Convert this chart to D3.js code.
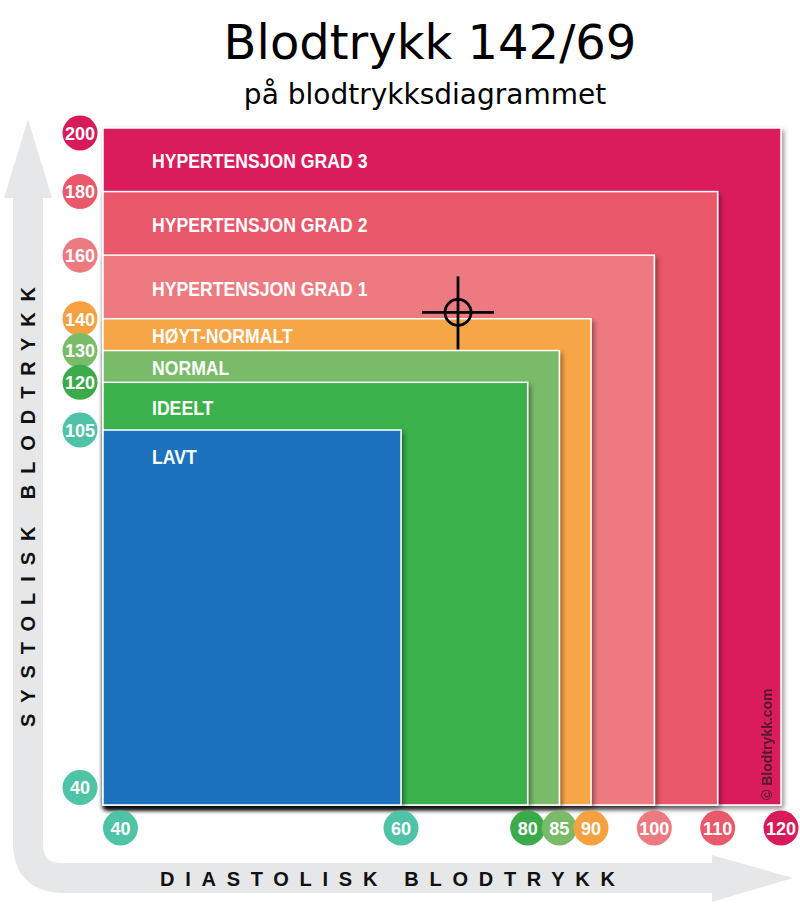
<!DOCTYPE html>
<html>
<head>
<meta charset="utf-8">
<script src="https://cdn.jsdelivr.net/npm/d3@7"></script>
<style>
body { margin: 0; background: white; }
</style>
</head>
<body>
<div id="chart"></div>
<script>
const width = 800
const height = 908

// bands, outermost first
var categories = ['HYPERTENSJON GRAD 3', 'HYPERTENSJON GRAD 2', 'HYPERTENSJON GRAD 1', 'HØYT-NORMALT', 'NORMAL', 'IDEELT', 'LAVT']
var systolicMax = [200, 180, 160, 140, 130, 120, 105]
var diastolicMax = [120, 110, 100, 90, 85, 80, 60]
var bandColors = ['#da1b5b', '#e9596a', '#ee7a81', '#f6a646', '#79bb69', '#3bb14b', '#1f72bc']

var systolicTicks = [200, 180, 160, 140, 130, 120, 105, 40]
var systolicTickColors = ['#d81a5a', '#e9596a', '#ee7a81', '#f5a142', '#79bb69', '#3aaa4a', '#4fc3a6', '#4fc3a6']
var diastolicTicks = [40, 60, 80, 85, 90, 100, 110, 120]
var diastolicTickColors = ['#4fc3a6', '#4fc3a6', '#3aaa4a', '#79bb69', '#f5a142', '#ee7a81', '#e9596a', '#d81a5a']

var reading = [142, 69] // systolic / diastolic

const sans = '"Liberation Sans", Arial, sans-serif'
const squeeze = 0.84 // no narrow font installed, so squash bold Arial

// the chart is stretched below 60 / 105, so use piecewise scales
var xscale = d3.scaleLinear()
	.domain([40, 60, 120])
	.range([103, 401, 781])
var yscale = d3.scaleLinear()
	.domain([40, 105, 200])
	.range([805, 430, 128])

var svg = d3.select('#chart').append('svg')
	.attr('width', width)
	.attr('height', height)
	.style('background-color', 'white')

var defs = svg.append('defs')
defs.append('filter')
	.attr('id', 'shadow')
	.attr('x', '-5%').attr('y', '-5%')
	.attr('width', '115%').attr('height', '115%')
	.append('feDropShadow')
	.attr('dx', 2)
	.attr('dy', 3)
	.attr('stdDeviation', 2.5)
	.attr('flood-color', '#000')
	.attr('flood-opacity', 0.45)

// grey L-shaped arrow behind everything
var arrowColor = '#e6e7e8'
var corner = 35
var ax = 28, ay = 878
svg.append('path')
	.attr('d', 'M' + ax + ',190 L' + ax + ',' + (ay - corner) +
		' Q' + ax + ',' + ay + ' ' + (ax + corner) + ',' + ay + ' L716,' + ay)
	.attr('fill', 'none')
	.attr('stroke', arrowColor)
	.attr('stroke-width', 30)
svg.append('path')
	.attr('d', 'M' + ax + ',119 L52,198 L4,198 Z')
	.attr('fill', arrowColor)
svg.append('path')
	.attr('d', 'M793,' + ay + ' L712,855 L712,902 Z')
	.attr('fill', arrowColor)

// axis titles
svg.append('text')
	.text('SYSTOLISK BLODTRYKK')
	.attr('transform', 'translate(' + (ax + 7) + ',727) rotate(-90)')
	.attr('textLength', 440)
	.attr('lengthAdjust', 'spacing')
	.style('font-family', sans)
	.style('font-weight', 'bold')
	.style('font-size', '20px')
	.style('fill', '#111')
svg.append('text')
	.text('DIASTOLISK BLODTRYKK')
	.attr('x', 160)
	.attr('y', 886)
	.attr('textLength', 455)
	.attr('lengthAdjust', 'spacing')
	.style('font-family', sans)
	.style('font-weight', 'bold')
	.style('font-size', '20px')
	.style('fill', '#111')

// nested rectangles
var bands = svg.append('g')
bands.selectAll('rect')
	.data(categories)
	.enter()
	.append('rect')
	.attr('x', xscale(40))
	.attr('y', (d, i) => yscale(systolicMax[i]))
	.attr('width', (d, i) => xscale(diastolicMax[i]) - xscale(40))
	.attr('height', (d, i) => yscale(40) - yscale(systolicMax[i]))
	.attr('fill', (d, i) => bandColors[i])
	.attr('stroke', 'white')
	.attr('stroke-width', 1.5)
	.attr('filter', 'url(#shadow)')

// band names, centred between own top and next band top
bands.selectAll('.band-label')
	.data(categories)
	.enter()
	.append('text')
	.attr('class', 'band-label')
	.text(d => d)
	.attr('transform', (d, i) => {
		let top = yscale(systolicMax[i])
		let y = i == categories.length - 1 ? top + 26 : (top + yscale(systolicMax[i + 1])) / 2 + 1
		return 'translate(152,' + y + ') scale(' + squeeze + ',1)'
	})
	.attr('dominant-baseline', 'central')
	.style('font-family', sans)
	.style('font-weight', 'bold')
	.style('font-size', '21px')
	.style('fill', 'white')

// watermark
svg.append('text')
	.text('© Blodtrykk.com')
	.attr('transform', 'translate(772,800) rotate(-90)')
	.style('font-family', sans)
	.style('font-weight', 'bold')
	.style('font-size', '14px')
	.style('fill', '#3b1a2a')
	.style('opacity', 0.85)

// tick bubbles
const r = 17.5
var yTicks = svg.append('g')
	.selectAll('g')
	.data(systolicTicks)
	.enter()
	.append('g')
	.attr('transform', d => {
		let cy = yscale(d)
		cy = Math.max(cy, yscale(200) + 5)
		cy = Math.min(cy, yscale(40) - r)
		return 'translate(80,' + cy + ')'
	})
yTicks.append('circle')
	.attr('r', r)
	.attr('fill', (d, i) => systolicTickColors[i])
yTicks.append('text')
	.text(d => d)
	.attr('text-anchor', 'middle')
	.attr('dy', '0.36em')
	.attr('transform', 'scale(0.95,1)')
	.style('font-family', sans)
	.style('font-weight', 'bold')
	.style('font-size', '19px')
	.style('fill', 'white')

var xTicks = svg.append('g')
	.selectAll('g')
	.data(diastolicTicks)
	.enter()
	.append('g')
	.attr('transform', d => {
		let cx = Math.max(xscale(d), xscale(40) + r)
		return 'translate(' + cx + ',828)'
	})
xTicks.append('circle')
	.attr('r', r)
	.attr('fill', (d, i) => diastolicTickColors[i])
xTicks.append('text')
	.text(d => d)
	.attr('text-anchor', 'middle')
	.attr('dy', '0.36em')
	.attr('transform', 'scale(0.95,1)')
	.style('font-family', sans)
	.style('font-weight', 'bold')
	.style('font-size', '19px')
	.style('fill', 'white')

// crosshair at the reading
var cx = xscale(reading[1])
var cy = yscale(reading[0])
var cross = svg.append('g')
	.attr('transform', 'translate(' + cx + ',' + cy + ')')
	.style('stroke', 'black')
	.style('stroke-width', 2.8)
cross.append('line').attr('x1', -36).attr('x2', 36)
cross.append('line').attr('y1', -36).attr('y2', 37)
cross.append('circle').attr('r', 13).attr('fill', 'none')

// titles
svg.append('text')
	.text('Blodtrykk ' + reading[0] + '/' + reading[1])
	.attr('x', 430)
	.attr('y', 59)
	.attr('text-anchor', 'middle')
	.style('font-family', '"DejaVu Sans", Verdana, sans-serif')
	.style('font-size', '48px')
	.style('fill', 'black')
svg.append('text')
	.text('på blodtrykksdiagrammet')
	.attr('x', 425)
	.attr('y', 104)
	.attr('text-anchor', 'middle')
	.style('font-family', '"DejaVu Sans", Verdana, sans-serif')
	.style('font-size', '28px')
	.style('fill', 'black')
</script>
</body>
</html>
